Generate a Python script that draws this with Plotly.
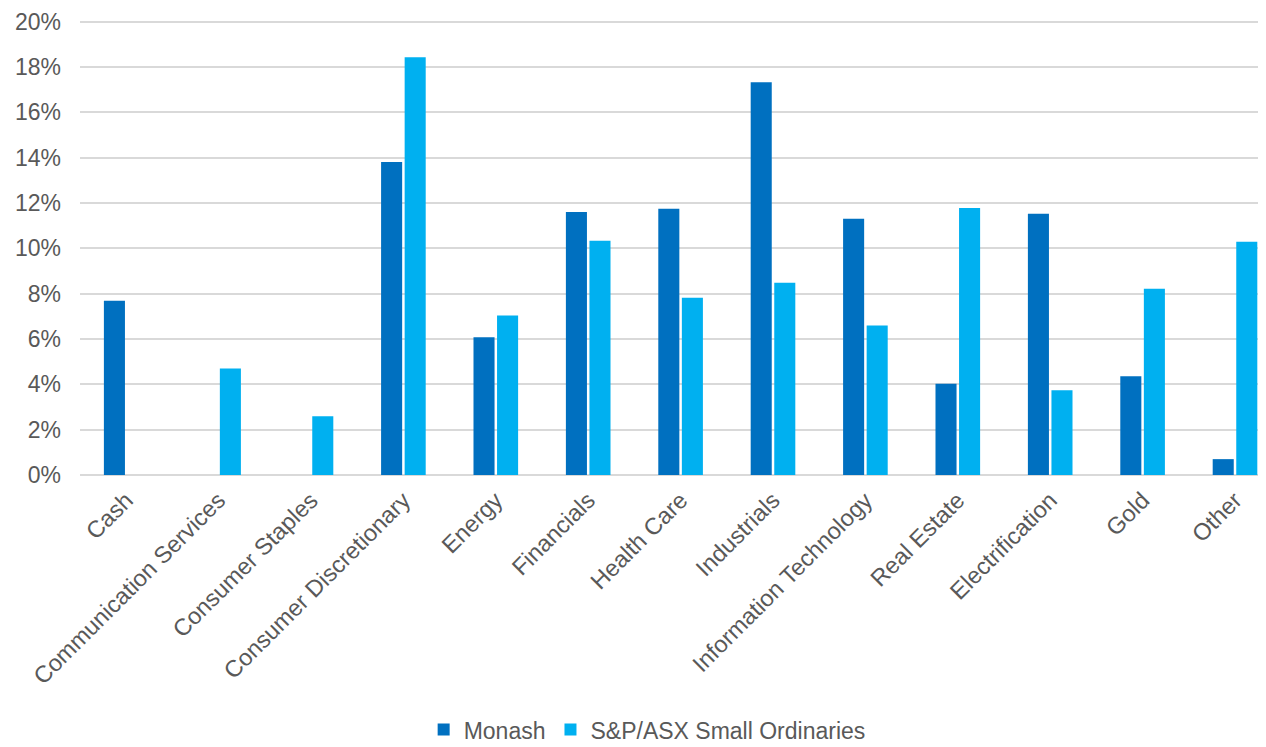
import plotly.graph_objects as go

categories = ["Cash", "Communication Services", "Consumer Staples", "Consumer Discretionary",
              "Energy", "Financials", "Health Care", "Industrials", "Information Technology",
              "Real Estate", "Electrification", "Gold", "Other"]
monash = [7.69, None, None, 13.80, 6.07, 11.60, 11.74, 17.32, 11.30, 4.02, 11.52, 4.35, 0.70]
small_ords = [None, 4.70, 2.59, 18.42, 7.03, 10.33, 7.82, 8.48, 6.59, 11.78, 3.74, 8.22, 10.29]
y_ticks = [0, 2, 4, 6, 8, 10, 12, 14, 16, 18, 20]
y_labels = [f"{t}%" for t in y_ticks]

fig = go.Figure()
fig.add_trace(go.Bar(x=categories, y=monash, name="Monash", marker_color="#0070C0",
                     marker_line_width=0))
fig.add_trace(go.Bar(x=categories, y=small_ords, name="S&P/ASX Small Ordinaries",
                     marker_color="#00B0F0", marker_line_width=0))

font = dict(family="Liberation Sans, Arial, sans-serif", size=23, color="#595959")
W, H = 1266, 747
px_per_unit = 22.7
y_top = 20.2
l, b, r = 72, 280, 0
t = 14 - (y_top - 20) * px_per_unit
cat_w = 92.4
x_hi = -0.5 + (W - l - r) / cat_w

fig.update_layout(
    width=W, height=H,
    margin=dict(l=l, r=r, t=t, b=b, autoexpand=False),
    plot_bgcolor="white", paper_bgcolor="white",
    barmode="group", bargap=0.49, bargroupgap=0.106,
    font=font,
    legend=dict(orientation="h", x=0.475, xanchor="center", y=-0.556, yanchor="middle",
                font=dict(size=23, color="#595959"), itemwidth=30, traceorder="normal"),
    xaxis=dict(tickangle=-45, showgrid=False, showline=False, ticks="",
               range=[-0.5, x_hi], automargin=False, ticklabelstandoff=6,
               tickfont=dict(size=23.5, color="#595959")),
    yaxis=dict(range=[0, y_top], tickvals=y_ticks, ticktext=y_labels, showgrid=True,
               gridcolor="#D9D9D9", gridwidth=1.5, zeroline=True, zerolinecolor="#D9D9D9",
               zerolinewidth=1.5, ticks="", automargin=False, ticklabelstandoff=18,
               ticklabeloverflow="allow",
               tickfont=dict(size=23, color="#595959")),
)
fig.write_html("out.html")
